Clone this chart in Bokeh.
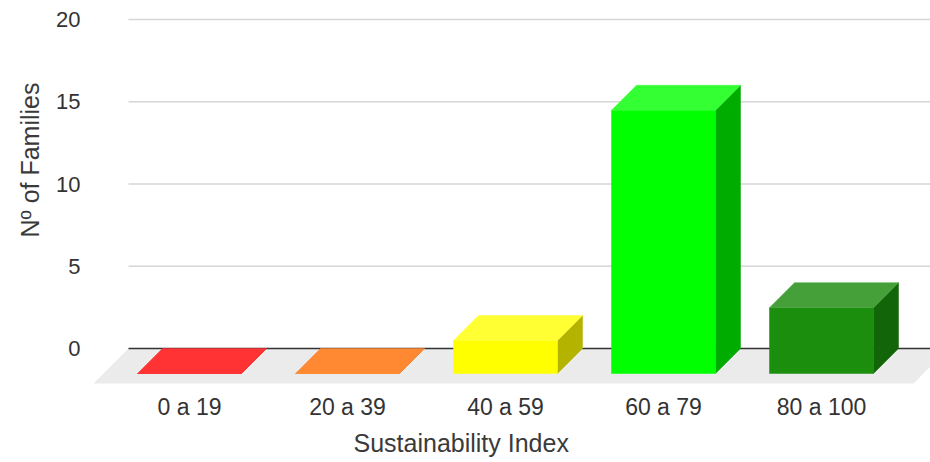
from bokeh.plotting import figure
from bokeh.models import Range1d, FixedTicker, ColumnDataSource, Title
from bokeh.embed import file_html
from bokeh.resources import INLINE

# ---------------- data ----------------
categories = ["0 a 19", "20 a 39", "40 a 59", "60 a 79", "80 a 100"]
families = [0, 0, 2, 16, 4]
front_colors = ["#ff0000", "#ff7f00", "#ffff00", "#00ff00", "#1b8e0d"]
top_colors = ["#ff3333", "#ff8833", "#ffff33", "#33ff33", "#45a039"]
side_colors = ["#b30000", "#b35900", "#b3b300", "#00ac00", "#136509"]
y_ticks = [0, 5, 10, 15, 20]
x_title = "Sustainability Index"
y_title = "Nº of Families"

# ---------------- layout (pixels) ----------------
W, H = 930, 462
FRAME_L, FRAME_R, FRAME_T, FRAME_B = 93, 930, 0, 385
CAT0_PX, CAT_STEP_PX = 189, 158      # centre of first bar face, spacing
BASE_PX, UNIT_PX = 348, 16.45        # y pixel of value 0 (back plane), px per unit
DEPTH_PX = 25                        # 3D depth of the bars
FLOOR_DEPTH_PX = 35
FACE_PX = 104
FLOOR_RIGHT_PX = 913
XTITLE_LEFT_PX = 353
YTITLE_BOTTOM_PX = 237


def dx(px):
    return px / CAT_STEP_PX


def dy(px):
    return px / UNIT_PX


def xd(px):
    return (px - CAT0_PX) / CAT_STEP_PX


def yd(px):
    return (BASE_PX - px) / UNIT_PX


FONT = "Liberation Sans"

p = figure(width=W, height=H, output_backend="svg", toolbar_location=None,
           x_range=Range1d(xd(FRAME_L), xd(FRAME_R)),
           y_range=Range1d(yd(FRAME_B), yd(FRAME_T)))
p.min_border_left = FRAME_L
p.min_border_right = W - FRAME_R
p.min_border_top = FRAME_T
p.min_border_bottom = H - FRAME_B
p.outline_line_color = None
p.background_fill_color = "white"
p.border_fill_color = "white"
p.xgrid.visible = False
p.ygrid.visible = False

# ---------------- floor ----------------
fd_x, fd_y = dx(FLOOR_DEPTH_PX), dy(FLOOR_DEPTH_PX)
fl_x0, fl_x1 = xd(FRAME_L), xd(FLOOR_RIGHT_PX)
p.patch(x=[fl_x0, fl_x1, fl_x1 + fd_x, fl_x0 + fd_x],
        y=[-fd_y, -fd_y, 0, 0], fill_color="#ebebeb", line_color=None)

# ---------------- gridlines on the back plane ----------------
grid_x0 = fl_x0 + fd_x
grid_x1 = xd(FRAME_R) + 1
gl = [t for t in y_ticks if t != 0]
p.segment(x0=[grid_x0] * len(gl), x1=[grid_x1] * len(gl), y0=gl, y1=gl,
          line_color="#d6d6d6", line_width=1.6)
p.segment(x0=[grid_x0], x1=[grid_x1], y0=[0], y1=[0],
          line_color="#333333", line_width=1.6)

# ---------------- 3D bars ----------------
w = dx(FACE_PX)
ddx, ddy = dx(DEPTH_PX), dy(DEPTH_PX)
front = dict(left=[], right=[], bottom=[], top=[], color=[])
tops = dict(xs=[], ys=[], color=[])
sides = dict(xs=[], ys=[], color=[])
for i, v in enumerate(families):
    l, r = i - w / 2, i + w / 2
    front["left"].append(l)
    front["right"].append(r)
    front["bottom"].append(-ddy)
    front["top"].append(v - ddy)
    front["color"].append(front_colors[i])
    tops["xs"].append([l, r, r + ddx, l + ddx])
    tops["ys"].append([v - ddy, v - ddy, v, v])
    tops["color"].append(top_colors[i])
    sides["xs"].append([r, r + ddx, r + ddx, r])
    sides["ys"].append([-ddy, 0, v, v - ddy])
    sides["color"].append(side_colors[i])

p.patches(xs="xs", ys="ys", fill_color="color", line_color="color",
          line_width=0.5, source=ColumnDataSource(sides))
p.quad(left="left", right="right", bottom="bottom", top="top",
       fill_color="color", line_color="color", line_width=0.5,
       source=ColumnDataSource(front))
p.patches(xs="xs", ys="ys", fill_color="color", line_color="color",
          line_width=0.5, source=ColumnDataSource(tops))

# ---------------- axes ----------------
p.yaxis.ticker = FixedTicker(ticks=y_ticks)
p.yaxis.axis_line_color = None
p.yaxis.major_tick_line_color = None
p.yaxis.minor_tick_line_color = None
p.yaxis.major_tick_out = 0
p.yaxis.major_label_standoff = 13
p.yaxis.major_label_text_font = FONT
p.yaxis.major_label_text_font_size = "22px"
p.yaxis.major_label_text_color = "#333333"

p.xaxis.ticker = FixedTicker(ticks=list(range(len(categories))))
p.xaxis.major_label_overrides = {i: c for i, c in enumerate(categories)}
p.xaxis.axis_line_color = None
p.xaxis.major_tick_line_color = None
p.xaxis.minor_tick_line_color = None
p.xaxis.major_tick_out = 0
p.xaxis.major_label_standoff = 8
p.xaxis.major_label_text_font = FONT
p.xaxis.major_label_text_font_size = "23px"
p.xaxis.major_label_text_color = "#333333"

# ---------------- axis titles ----------------
p.add_layout(Title(text=x_title, align="left", offset=XTITLE_LEFT_PX - FRAME_L,
                   standoff=9, text_font=FONT, text_font_size="25px",
                   text_font_style="normal", text_color="#3a3a3a"), "below")
p.add_layout(Title(text=y_title, align="left", offset=FRAME_B - YTITLE_BOTTOM_PX,
                   standoff=20, text_font=FONT, text_font_size="25px",
                   text_font_style="normal", text_color="#3a3a3a"), "left")

open("out.html", "w").write(file_html(p, INLINE))
